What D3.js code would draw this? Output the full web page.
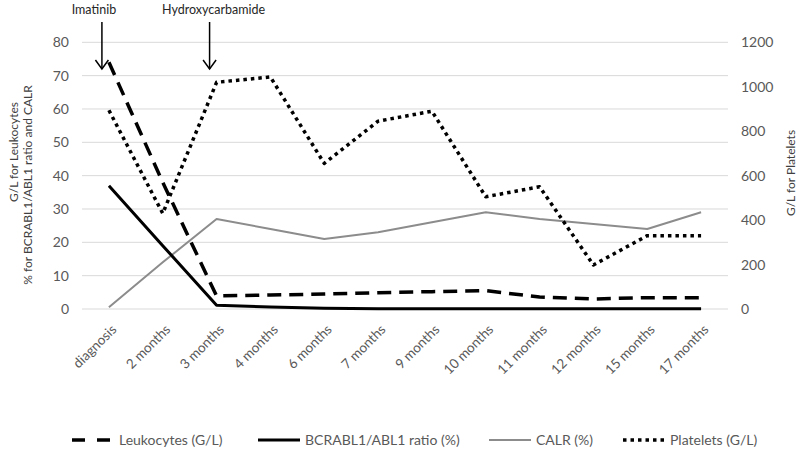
<!DOCTYPE html>
<html>
<head>
<meta charset="utf-8">
<script src="https://cdn.jsdelivr.net/npm/d3@7/dist/d3.min.js"></script>
<style>
  html, body { margin: 0; padding: 0; background: #fff; }
  svg { display: block; font-family: Lato, "Open Sans", sans-serif; }
</style>
</head>
<body>
<svg id="chart" width="800" height="452"></svg>
<script>
const categories = ["diagnosis", "2 months", "3 months", "4 months", "6 months", "7 months",
  "9 months", "10 months", "11 months", "12 months", "15 months", "17 months"];
const leukocytes = [74, 38, 3.9, 4.2, 4.5, 4.9, 5.2, 5.5, 3.6, 3.0, 3.4, 3.4];
const bcrabl = [37, 19, 1.1, 0.6, 0.2, 0.1, 0.1, 0.1, 0.1, 0.05, 0.05, 0.05];
const calr = [0.5, 14, 27, 24, 21, 23, 26, 29, 27, 25.5, 24, 29];
const platelets = [894, 430, 1020, 1044, 655, 845, 890, 505, 550, 198, 330, 330];
const leftTicks = [0, 10, 20, 30, 40, 50, 60, 70, 80];
const rightTicks = [0, 200, 400, 600, 800, 1000, 1200];
const annotations = [
  { label: "Imatinib", category: "diagnosis", labelDx: -8 },
  { label: "Hydroxycarbamide", category: "3 months", labelDx: 4 }
];
const legendItems = [
  { name: "Leukocytes (G/L)", key: "leuk" },
  { name: "BCRABL1/ABL1 ratio (%)", key: "bcr" },
  { name: "CALR (%)", key: "calr" },
  { name: "Platelets (G/L)", key: "plt" }
];

const styles = {
  leuk: { stroke: "#000", width: 3.5, dash: "14,8", cap: "butt" },
  bcr:  { stroke: "#000", width: 3, dash: null, cap: "butt" },
  calr: { stroke: "#8c8c8c", width: 2, dash: null, cap: "butt" },
  plt:  { stroke: "#000", width: 3.5, dash: "3.5,4", cap: "butt" }
};

const svg = d3.select("#chart");
const pLeft = 82, pRight = 728, pTop = 42.3, pBottom = 309;

const x = d3.scaleBand().domain(categories).range([pLeft, pRight]);
const cx = c => x(c) + x.bandwidth() / 2;
const yL = d3.scaleLinear().domain([0, 80]).range([pBottom, pTop]);
const yR = d3.scaleLinear().domain([0, 1200]).range([pBottom, pTop]);

// gridlines
svg.append("g").selectAll("line").data(leftTicks).join("line")
  .attr("x1", pLeft).attr("x2", pRight)
  .attr("y1", d => yL(d)).attr("y2", d => yL(d))
  .attr("stroke", "#d9d9d9").attr("stroke-width", 1);

// left axis labels
const axL = svg.append("g").attr("transform", `translate(${pLeft - 13},0)`)
  .call(d3.axisLeft(yL).tickValues(leftTicks).tickFormat(d3.format("d")).tickSize(0).tickPadding(0));
axL.select(".domain").remove();
axL.selectAll("text").attr("font-size", 14).attr("fill", "#595959").attr("font-family", "Lato");

// right axis labels
const axR = svg.append("g").attr("transform", `translate(${pRight + 13},0)`)
  .call(d3.axisRight(yR).tickValues(rightTicks).tickFormat(d3.format("d")).tickSize(0).tickPadding(0));
axR.select(".domain").remove();
axR.selectAll("text").attr("font-size", 14).attr("fill", "#595959").attr("font-family", "Lato");

// x labels
svg.append("g").selectAll("text").data(categories).join("text")
  .attr("transform", d => `translate(${cx(d) + 5},${327}) rotate(-45)`)
  .attr("text-anchor", "end")
  .attr("dy", "0.35em")
  .attr("font-size", 13.5).attr("fill", "#595959")
  .text(d => d);

// axis titles
svg.append("text")
  .attr("transform", `translate(14,152) rotate(-90)`)
  .attr("text-anchor", "middle").attr("dy", "0.35em")
  .attr("font-size", 12).attr("fill", "#404040")
  .text("G/L for Leukocytes");
svg.append("text")
  .attr("transform", `translate(28,185) rotate(-90)`)
  .attr("text-anchor", "middle").attr("dy", "0.35em")
  .attr("font-size", 12).attr("fill", "#404040")
  .text("% for BCRABL1/ABL1 ratio and CALR");
svg.append("text")
  .attr("transform", `translate(791,173) rotate(-90)`)
  .attr("text-anchor", "middle").attr("dy", "0.35em")
  .attr("font-size", 12).attr("fill", "#404040")
  .text("G/L for Platelets");

// series
const series = [
  { key: "calr", values: calr, y: yL },
  { key: "bcr", values: bcrabl, y: yL },
  { key: "leuk", values: leukocytes, y: yL },
  { key: "plt", values: platelets, y: yR }
];
series.forEach(s => {
  const st = styles[s.key];
  const line = d3.line().x((d, i) => cx(categories[i])).y(d => s.y(d));
  svg.append("path").datum(s.values)
    .attr("d", line)
    .attr("fill", "none")
    .attr("stroke", st.stroke)
    .attr("stroke-width", st.width)
    .attr("stroke-linecap", st.cap)
    .attr("stroke-linejoin", "round")
    .attr("stroke-dasharray", st.dash);
});

// annotations
annotations.forEach(a => {
  const ax = cx(a.category) - 7;
  const g = svg.append("g");
  g.append("line").attr("x1", ax).attr("x2", ax).attr("y1", 22).attr("y2", 69)
    .attr("stroke", "#000").attr("stroke-width", 1.5);
  g.append("path").attr("d", `M${ax - 6.5},${60} L${ax},${69} L${ax + 6.5},${60}`)
    .attr("fill", "none").attr("stroke", "#000").attr("stroke-width", 1.5);
  g.append("text").attr("x", ax + a.labelDx).attr("y", 10).attr("dy", "0.35em")
    .attr("text-anchor", "middle").attr("font-size", 12.5).attr("fill", "#262626")
    .text(a.label);
});

// legend
const legendPos = [72, 258, 489, 623];
const lg = svg.append("g");
legendItems.forEach((it, i) => {
  const st = styles[it.key];
  const lx = legendPos[i];
  lg.append("line").attr("x1", lx).attr("x2", lx + 42).attr("y1", 440).attr("y2", 440)
    .attr("stroke", st.stroke).attr("stroke-width", st.width)
    .attr("stroke-dasharray", it.key === "leuk" ? "13,12" : st.dash);
  lg.append("text").attr("x", lx + 47).attr("y", 440).attr("dy", "0.35em")
    .attr("font-size", 14).attr("fill", "#595959")
    .text(it.name);
});
</script>
</body>
</html>
